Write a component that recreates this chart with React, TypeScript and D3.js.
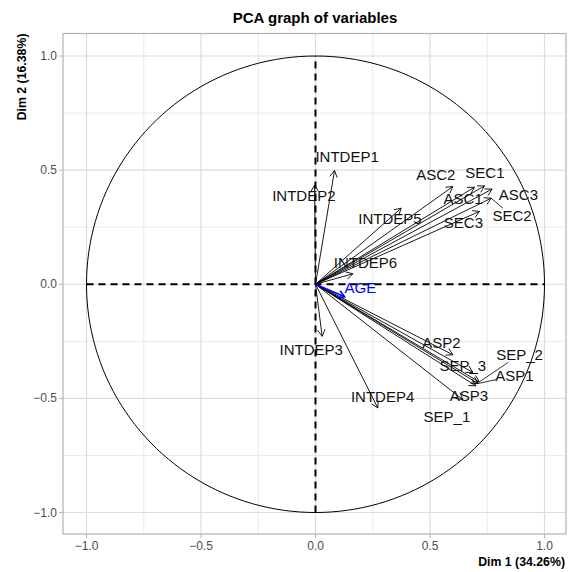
import React from "react";
import * as d3 from "d3";

// variable coordinates on the first two dimensions
const varNames = [
  "INTDEP1", "INTDEP2", "INTDEP3", "INTDEP4", "INTDEP5", "INTDEP6",
  "ASC1", "ASC2", "ASC3", "SEC1", "SEC2", "SEC3",
  "ASP1", "ASP2", "ASP3", "SEP_1", "SEP_2", "SEP_3",
];
const dim1 = [
  0.083, -0.004, 0.029, 0.272, 0.374, 0.163,
  0.694, 0.600, 0.771, 0.738, 0.767, 0.716,
  0.710, 0.600, 0.700, 0.643, 0.715, 0.687,
];
const dim2 = [
  0.498, 0.435, -0.228, -0.542, 0.333, 0.046,
  0.425, 0.428, 0.417, 0.431, 0.377, 0.319,
  -0.435, -0.309, -0.445, -0.505, -0.428, -0.386,
];
// where the (repelled) labels ended up, in dim units
const labelDim1 = [
  0.138, -0.051, -0.019, 0.293, 0.325, 0.218,
  0.645, 0.525, 0.886, 0.740, 0.858, 0.646,
  0.869, 0.550, 0.670, 0.574, 0.891, 0.643,
];
const labelDim2 = [
  0.559, 0.387, -0.287, -0.491, 0.287, 0.094,
  0.374, 0.479, 0.392, 0.487, 0.300, 0.269,
  -0.400, -0.256, -0.488, -0.578, -0.309, -0.357,
];
const withSegment = ["SEC2", "SEP_2", "ASP1"];

// supplementary quantitative variable
const suppNames = ["AGE"];
const suppDim1 = [0.127];
const suppDim2 = [-0.055];
const suppLabelDim1 = [0.196];
const suppLabelDim2 = [-0.015];

const ticks = [-1.0, -0.5, 0.0, 0.5, 1.0];
const minorTicks = [-0.75, -0.25, 0.25, 0.75];

const W = 568;
const H = 572;
const panel = { left: 63, right: 566, top: 33.5, bottom: 534 };

function Arrow({ x0, y0, x1, y1, color, width }: any) {
  const a = Math.atan2(y1 - y0, x1 - x0);
  const len = 7.5;
  const ang = Math.PI / 6;
  const p1 = [x1 - len * Math.cos(a - ang), y1 - len * Math.sin(a - ang)];
  const p2 = [x1 - len * Math.cos(a + ang), y1 - len * Math.sin(a + ang)];
  return (
    <g stroke={color} strokeWidth={width} fill="none">
      <line x1={x0} y1={y0} x2={x1} y2={y1} />
      <polyline points={`${p1[0]},${p1[1]} ${x1},${y1} ${p2[0]},${p2[1]}`} />
    </g>
  );
}

export default function App() {
  const x = d3.scaleLinear().domain([-1, 1]).range([86.5, 544.5]);
  const y = d3.scaleLinear().domain([-1, 1]).range([512.5, 56]);
  const fmt = d3.format(".1f");
  const fs = 15;

  const circle = d3.range(0, 361, 2).map((d) => {
    const t = (d * Math.PI) / 180;
    return [x(Math.cos(t)), y(Math.sin(t))] as [number, number];
  });
  const circlePath = d3.line()(circle) || "";

  const segmentEnd = (px: number, py: number, cx: number, cy: number, label: string) => {
    const hw = (label.length * fs * 0.62) / 2;
    const hh = fs * 0.5;
    const dx = px - cx;
    const dy = py - cy;
    const s = Math.min(Math.abs(hw / (dx || 1e-6)), Math.abs(hh / (dy || 1e-6)));
    return [cx + dx * s, cy + dy * s];
  };

  return (
    <svg
      width={W}
      height={H}
      style={{ position: "absolute", left: 0, top: 0, background: "#fff" }}
      fontFamily="'Liberation Sans', Arial, sans-serif"
    >
      {/* grid */}
      <g>
        {minorTicks.map((t) => (
          <g key={"m" + t} stroke="#e8e8e8" strokeWidth={0.9}>
            <line x1={x(t)} x2={x(t)} y1={panel.top} y2={panel.bottom} />
            <line x1={panel.left} x2={panel.right} y1={y(t)} y2={y(t)} />
          </g>
        ))}
        {ticks.map((t) => (
          <g key={"M" + t} stroke="#dcdcdc" strokeWidth={1.2}>
            <line x1={x(t)} x2={x(t)} y1={panel.top} y2={panel.bottom} />
            <line x1={panel.left} x2={panel.right} y1={y(t)} y2={y(t)} />
          </g>
        ))}
      </g>
      <rect
        x={panel.left}
        y={panel.top}
        width={panel.right - panel.left}
        height={panel.bottom - panel.top}
        fill="none"
        stroke="#b3b3b3"
        strokeWidth={1.2}
      />
      {/* ticks and labels */}
      {ticks.map((t) => (
        <g key={"t" + t} fill="#4d4d4d" fontSize={12}>
          <line x1={x(t)} x2={x(t)} y1={panel.bottom} y2={panel.bottom + 4} stroke="#b3b3b3" />
          <text x={x(t)} y={panel.bottom + 16} textAnchor="middle">
            {fmt(t).replace("-", "\u2212")}
          </text>
          <line x1={panel.left - 4} x2={panel.left} y1={y(t)} y2={y(t)} stroke="#b3b3b3" />
          <text x={panel.left - 6} y={y(t) + 4} textAnchor="end">
            {fmt(t).replace("-", "\u2212")}
          </text>
        </g>
      ))}
      <text x={315} y={23} textAnchor="middle" fontWeight="bold" fontSize={15} fill="#000">
        PCA graph of variables
      </text>
      <text x={panel.right - 1} y={566} textAnchor="end" fontWeight="bold" fontSize={12.3} fill="#000">
        Dim 1 (34.26%)
      </text>
      <text
        transform={`translate(26, ${panel.top}) rotate(-90)`}
        textAnchor="end"
        fontWeight="bold"
        fontSize={12.3}
        fill="#000"
      >
        Dim 2 (16.38%)
      </text>

      {/* unit circle and axes */}
      <path d={circlePath} fill="none" stroke="#000" strokeWidth={1} />
      <line x1={x(-1)} x2={x(1)} y1={y(0)} y2={y(0)} stroke="#000" strokeWidth={2} strokeDasharray="7,5" />
      <line x1={x(0)} x2={x(0)} y1={y(-1)} y2={y(1)} stroke="#000" strokeWidth={2} strokeDasharray="7,5" />

      {/* active variables */}
      {varNames.map((n, i) => (
        <Arrow key={n} x0={x(0)} y0={y(0)} x1={x(dim1[i])} y1={y(dim2[i])} color="#000" width={0.9} />
      ))}
      {suppNames.map((n, i) => (
        <Arrow key={n} x0={x(0)} y0={y(0)} x1={x(suppDim1[i])} y1={y(suppDim2[i])} color="#0000ff" width={1.6} />
      ))}

      {/* label segments */}
      {varNames.map((n, i) => {
        if (!withSegment.includes(n)) return null;
        const px = x(dim1[i]);
        const py = y(dim2[i]);
        const [ex, ey] = segmentEnd(px, py, x(labelDim1[i]), y(labelDim2[i]), n);
        return <line key={"s" + n} x1={px} y1={py} x2={ex} y2={ey} stroke="#000" strokeWidth={0.8} />;
      })}

      {/* labels */}
      {varNames.map((n, i) => (
        <text
          key={"l" + n}
          x={x(labelDim1[i])}
          y={y(labelDim2[i])}
          dy="0.36em"
          textAnchor="middle"
          fontSize={fs}
          fill="#111"
        >
          {n}
        </text>
      ))}
      {suppNames.map((n, i) => (
        <text
          key={"l" + n}
          x={x(suppLabelDim1[i])}
          y={y(suppLabelDim2[i])}
          dy="0.36em"
          textAnchor="middle"
          fontSize={fs}
          fill="#0000ff"
        >
          {n}
        </text>
      ))}
    </svg>
  );
}
